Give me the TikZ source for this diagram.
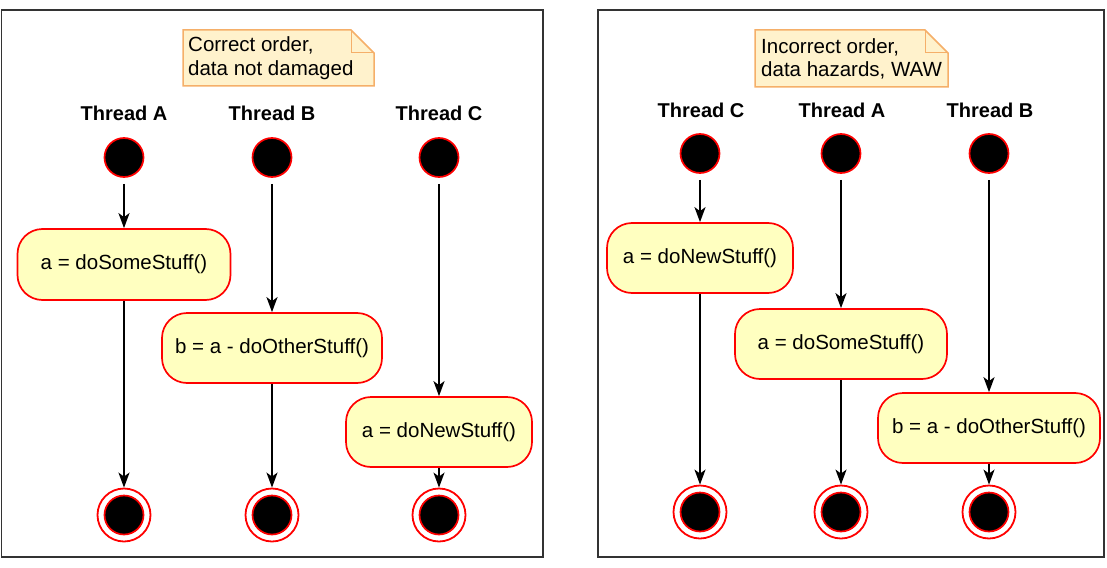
\documentclass[tikz,border=0pt]{standalone}
\usepackage{fontspec}
\setmainfont{Liberation Sans}
\usepackage{tikz}
\usetikzlibrary{arrows.meta}
\definecolor{boxfill}{HTML}{FFFFC0}
\definecolor{notefill}{HTML}{FFF2CC}
\definecolor{noteline}{RGB}{245,175,105}
\definecolor{framegray}{HTML}{333333}

\begin{document}
\begin{tikzpicture}[x=1pt, y=-1pt,
	every node/.style={font=\fontsize{20.5}{23.5}\selectfont},
	thread/.style={font=\fontsize{20}{24}\selectfont\bfseries},
	start/.style={circle, draw=red, fill=black, line width=1.7pt, minimum size=39pt, inner sep=0pt},
	final/.style={circle, draw=red, line width=1.8pt, minimum size=53pt, inner sep=0pt,
		path picture={\draw[red, fill=black, line width=1.7pt] (path picture bounding box.center) circle (19.5pt);}},
	action/.style={rectangle, rounded corners=25pt, draw=red, fill=boxfill, line width=1.7pt, minimum height=70pt, inner sep=0pt},
	flow/.style={line width=2pt, -{Stealth[length=15pt, width=11pt, inset=4pt]}},
	frame/.style={draw=framegray, line width=1.8pt},
	note/.style={draw=noteline, fill=notefill, line width=1.5pt},
	notetext/.style={anchor=west, align=left, inner sep=0pt}]
	\useasboundingbox (0,0) rectangle (1107,567);
	
	% left panel: correct order
	\draw[frame] (1.5,10) rectangle (543,557);
	\draw[note] (183,30) -- (351,30) -- (374,53) -- (374,86) -- (183,86) -- cycle;
	\draw[draw=noteline, line width=1pt] (351,30) -- (351,53) -- (374,53);
	\node[notetext] (noteL) at (188,58) {Correct order,\\data not damaged};
	
	\node[thread] (tA) at (124,113.5) {Thread A};
	\node[thread] (tB) at (272,113.5) {Thread B};
	\node[thread] (tC) at (439,113.5) {Thread C};
	
	\node[start] (sA) at (124,157.5) {};
	\node[start] (sB) at (272,157.5) {};
	\node[start] (sC) at (439,157.5) {};
	
	\node[action, minimum width=213pt, minimum height=71pt] (aA) at (124,264.5) {a = doSomeStuff()};
	\node[action, minimum width=220pt] (aB) at (272,348) {b = a - doOtherStuff()};
	\node[action, minimum width=186pt] (aC) at (439,432) {a = doNewStuff()};
	
	\node[final] (fA) at (124,515) {};
	\node[final] (fB) at (272,515) {};
	\node[final] (fC) at (439,515) {};
	
	\draw[flow, shorten <=6pt] (sA) -- (aA);
	\draw[flow, shorten <=6pt] (sB) -- (aB);
	\draw[flow, shorten <=6pt] (sC) -- (aC);
	\draw[flow] (aA) -- (fA);
	\draw[flow] (aB) -- (fB);
	\draw[flow] (aC) -- (fC);
	
	% right panel: incorrect order
	\draw[frame] (598,10) rectangle (1104,557);
	\draw[note] (755,30) -- (925,30) -- (948,53) -- (948,87) -- (755,87) -- cycle;
	\draw[draw=noteline, line width=1pt] (925,30) -- (925,53) -- (948,53);
	\node[notetext] (noteR) at (761,59) {Incorrect order,\\data hazards, WAW};
	
	\node[thread] (rtC) at (701,110.5) {Thread C};
	\node[thread] (rtA) at (842,110.5) {Thread A};
	\node[thread] (rtB) at (990,110.5) {Thread B};
	
	\node[start] (rsC) at (700,153.5) {};
	\node[start] (rsA) at (841,153.5) {};
	\node[start] (rsB) at (989,153.5) {};
	
	\node[action, minimum width=186pt] (raC) at (700,258) {a = doNewStuff()};
	\node[action, minimum width=212pt] (raA) at (841,344) {a = doSomeStuff()};
	\node[action, minimum width=222pt] (raB) at (989,428) {b = a - doOtherStuff()};
	
	\node[final] (rfC) at (700,512) {};
	\node[final] (rfA) at (841,512) {};
	\node[final] (rfB) at (989,512) {};
	
	\draw[flow, shorten <=6pt] (rsC) -- (raC);
	\draw[flow, shorten <=6pt] (rsA) -- (raA);
	\draw[flow, shorten <=6pt] (rsB) -- (raB);
	\draw[flow] (raC) -- (rfC);
	\draw[flow] (raA) -- (rfA);
	\draw[flow] (raB) -- (rfB);
\end{tikzpicture}
\end{document}
